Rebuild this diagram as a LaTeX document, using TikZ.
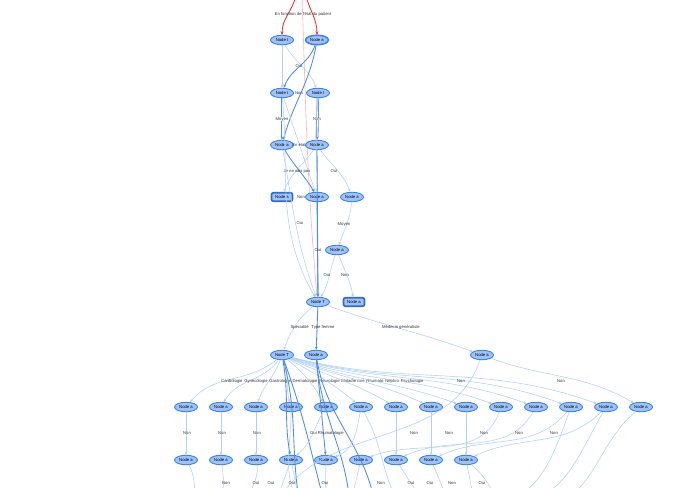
\documentclass[tikz,border=0pt]{standalone}
\usepackage{fontspec}
\setmainfont{Liberation Sans}
\usetikzlibrary{arrows.meta,shapes.geometric}
\definecolor{nfill}{HTML}{9EC2FA}
\definecolor{nline}{HTML}{3A82F0}
\definecolor{lite}{HTML}{B0CFFC}
\definecolor{dark}{HTML}{4A8CF0}
\definecolor{redl}{HTML}{F03030}
\definecolor{redf}{HTML}{F8B4B4}
\tikzset{
  nd/.style={ellipse,draw=nline,fill=nfill,line width=0.9pt,minimum width=23pt,minimum height=9.5pt,inner sep=0pt,font=\fontsize{4.2}{4.5}\selectfont},
  bx/.style={rectangle,rounded corners=2pt,draw=nline!85!black,fill=nfill,line width=1.7pt,minimum width=21pt,minimum height=8.5pt,inner sep=0pt,font=\fontsize{4.2}{4.5}\selectfont},
  le/.style={draw=lite,line width=0.55pt,-{Stealth[length=3.2pt,width=2.8pt]}},
  de/.style={draw=dark,line width=0.85pt,-{Stealth[length=3.2pt,width=2.8pt]}},
  re/.style={draw=redl,line width=0.85pt,-{Stealth[length=3.5pt,width=3pt]}},
  lab/.style={font=\fontsize{4.2}{4.5}\selectfont,inner sep=0pt,text=black!80},
  labw/.style={lab,anchor=west},
}
\begin{document}
\begin{tikzpicture}[x=1pt,y=-1pt]
\useasboundingbox (0,0) rectangle (676,487);
\fill[white] (0,0) rectangle (676,487);
\clip (0,0) rectangle (676,487);
% off-canvas coordinates
\coordinate (top1) at (296,-4);
\coordinate (top2) at (306,-4);
\coordinate (top3) at (302,-4);
\foreach \i/\x in {1/170,2/200,3/225,4/250,5/275,6/300,7/325,8/350,9/375,10/400,11/425,12/450,13/475,14/500,15/520,16/545}{\coordinate (z\i) at (\x,505);}
% red edges
\draw[draw=redf,line width=0.6pt,-{Stealth[length=3pt]}] (top3) to[out=-88,in=95] (317,296);
\draw[re] (top1) to[out=-105,in=90] (282,35);
\draw[re] (top2) to[out=-75,in=90] (317,35);
\node[lab] at (303,14) {En fonction de l'état du patient};
% nodes
\node[nd] (t1) at (282,40) {Node t};
\node[nd,line width=1.5pt] (a1) at (317,40) {Node a};
\node[nd] (t2) at (282,93) {Node t};
\node[nd] (t3) at (318,93) {Node t};
\node[nd] (a2) at (282,145) {Node a};
\node[nd] (a3) at (317,145) {Node a};
\node[bx] (b1) at (282,197) {Node a};
\node[nd] (a4) at (317,197) {Node a};
\node[nd] (a5) at (352,197) {Node a};
\node[nd] (a6) at (337,250) {Node a};
\node[nd] (T1) at (318,302) {Node T};
\node[bx] (b2) at (354,302) {Node a};
\node[nd] (T2) at (282,355) {Node T};
\node[nd] (a7) at (316,355) {Node a};
\node[nd] (a8) at (482,355) {Node a};
\foreach \i in {1,...,14}{\node[nd] (r\i) at ({186+35*(\i-1)},407) {Node a};}
\foreach \i in {1,...,9}{\node[nd] (s\i) at ({186+35*(\i-1)},460) {Node a};}
% upper part
\draw[le] (t1) -- (t2);
\draw[le] (t1) to[out=-60,in=110] (t3) node[lab] at (299,66) {Oui};
\draw[de] (a1) to[out=-110,in=70] (t2);
\draw[de] (a1) to[out=-100,in=75] (a2) node[lab] at (299,93) {Non};
\draw[de,double=white,double distance=0.8pt] (t2) -- (a2) node[lab,fill=white] at (282,119) {Moyen};
\draw[de,double=white,double distance=0.8pt] (t3) -- (a3) node[lab,fill=white] at (317,119) {Non};
\draw[le] (t2) -- (a4) node[lab] at (299,145) {En état};
\draw[le] (t3) to[out=-95,in=90] (a4);
\draw[de] (a2) to[out=-60,in=120] (a4);
\draw[le] (a3) to[out=-125,in=70] (b1) node[lab] at (297,171) {Je ne sais pas};
\draw[le] (a3) to[out=-55,in=110] (a5) node[lab] at (334,171) {Oui};
\draw[le] (a2) to[out=-80,in=110] (T1) node[lab] at (300,223) {Oui};
\draw[le] (t2) to[out=-85,in=120] (T1) node[lab] at (301,197) {Non};
\draw[de] (a3) -- (T1);
\draw[de] (a4) -- (T1) node[lab] at (318,250) {Oui};
\draw[le] (a5) to[out=-95,in=70] (a6) node[lab] at (344,224) {Moyen};
\draw[le] (a6) to[out=-110,in=60] (T1) node[lab] at (327,275) {Oui};
\draw[le] (a6) to[out=-70,in=100] (b2) node[lab] at (345,275) {Non};
% middle
\draw[le] (T1) to[out=-140,in=70] (T2) node[lab,anchor=east] at (309,327) {Spécialité};
\draw[de] (T1) -- (a7) node[labw] at (311,327) {Type femme};
\draw[le] (T1) to[out=-20,in=160] (a8) node[lab] at (401,327) {Médecin généraliste};
% from T2 to row 8
\draw[le] (T2) to[out=-140,in=50] (r1) node[labw] (L1) at (221,381) {Cardiologie};
\draw[le] (T2) to[out=-125,in=60] (r2) node[labw] (L2) at ([xshift=1.2pt]L1.east) {Gynécologie};
\draw[le] (T2) to[out=-110,in=70] (r3) node[labw] (L3) at ([xshift=1.2pt]L2.east) {Gastrologie};
\draw[le] (T2) to[out=-70,in=105] (r4) node[labw] (L4) at ([xshift=1.2pt]L3.east) {Dermatologie};
\draw[le] (T2) to[out=-40,in=120] (r5) node[labw] (L5) at ([xshift=1.2pt]L4.east) {Neurologie};
\draw[le] (T2) to[out=-30,in=140] (r6) node[labw] (L6) at ([xshift=1.2pt]L5.east) {Maladie rare};
\draw[le] (T2) to[out=-25,in=150] (r7) node[labw] (L7) at ([xshift=1.2pt]L6.east) {Rhumato};
\draw[le] (T2) to[out=-22,in=155] (r8) node[labw] (L8) at ([xshift=1.2pt]L7.east) {Néphro};
\draw[le] (T2) to[out=-20,in=160] (r9) node[labw] (L9) at ([xshift=1.2pt]L8.east) {Psychologie};
\draw[le] (T2) to[out=-18,in=160] (r10);
\draw[le] (T2) to[out=-16,in=160] (r11);
\draw[le] (T2) to[out=-15,in=160] (r12);
\draw[le] (T2) to[out=-14,in=160] (r13);
\draw[de] (T2) to[out=-80,in=100] (s4);
\draw[de] (T2) to[out=-75,in=100] (z6);
\draw[de] (T2) to[out=-70,in=105] (z7);
\draw[de] (a7) -- (s5);
\draw[de] (a7) to[out=-85,in=95] (z8);
\draw[de] (a7) to[out=-80,in=100] (z9);
\draw[le] (a8) to[out=-110,in=60] (z5) node[lab] at (461,381) {Non};
\draw[le] (a8) to[out=-20,in=150] (r14) node[lab] at (561,381) {Non};
% row 8 to row 9
\draw[le] (r1) -- (s1) node[lab,fill=white] at (187,433) {Non};
\draw[le] (r2) -- (s2) node[lab,fill=white] at (222,433) {Non};
\draw[le] (r3) -- (s3) node[lab,fill=white] at (257,433) {Non};
\draw[le] (r5) to[out=-120,in=40] (s4) node[lab] at (327,433) {Oui Rhumatologie};
\draw[le] (r6) to[out=-100,in=20] (s5);
\draw[le] (r7) -- (s7);
\draw[le] (r8) -- (s8);
\draw[le] (r9) -- (s9);
\draw[le] (r10) to[out=-110,in=20] (s6) node[lab] at (414,433) {Non};
\draw[le] (r11) to[out=-120,in=25] (s7) node[lab] at (449,433) {Non};
\draw[le] (r12) to[out=-130,in=25] (s8) node[lab] at (484,433) {Non};
\draw[le] (r13) to[out=-135,in=25] (s9) node[lab] at (519,433) {Non};
\draw[le] (r14) to[out=-140,in=10] (z16) node[lab] at (554,433) {Non};
\draw[le] (r12) to[out=-110,in=20] (z14);
\draw[le] (r13) to[out=-120,in=15] (z15);
\draw[le] (r6) to[out=-60,in=120] (z10);
\draw[le] (r4) to[out=-90,in=120] (z6);
% row 9 to bottom
\draw[le] (s1) to[out=-60,in=120] (z2);
\draw[le] (s2) to[out=-80,in=100] (z3) node[lab] at (226,483) {Non};
\draw[le] (s3) to[out=-80,in=100] (z4) node[lab] at (256,483) {Oui};
\draw[le] (s4) -- (z5) node[lab] at (271,483) {Oui};
\draw[le] (s4) -- (z6) node[lab] at (292,483) {Oui};
\draw[le] (s5) -- (z7) node[lab] at (325,483) {Oui};
\draw[le] (s6) -- (z8) node[lab] at (381,483) {Non};
\draw[le] (s7) -- (z11) node[lab] at (411,483) {Oui};
\draw[le] (s8) -- (z12) node[lab] at (430,483) {Oui};
\draw[le] (s9) -- (z13) node[lab] at (452,483) {Non};
\draw[le] (s9) to[out=-40,in=120] (z14) node[lab] at (482,483) {Oui};
\end{tikzpicture}
\end{document}
